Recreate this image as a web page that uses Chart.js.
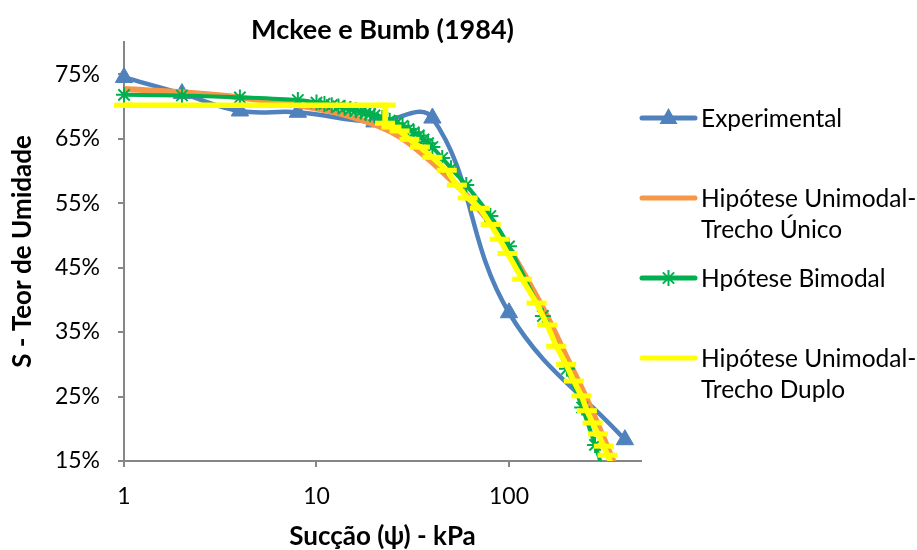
<!DOCTYPE html>
<html>
<head>
<meta charset="utf-8">
<script src="https://cdn.jsdelivr.net/npm/chart.js@4.4.1/dist/chart.umd.min.js"></script>
<style>
  html, body { margin: 0; padding: 0; background: #ffffff; }
  #wrap { width: 917px; height: 550px; }
</style>
</head>
<body>
<div id="wrap"><canvas id="c" width="917" height="550"></canvas></div>
<script>
// ---------- data ----------
const chartTitle = 'Mckee e Bumb (1984)';
const xAxisTitle = 'Sucção (ψ) - kPa';
const yAxisTitle = 'S - Teor de Umidade';
const xTickValues = [1, 10, 100];
const yTickValues = [15, 25, 35, 45, 55, 65, 75];

const seriesNames = ['Experimental', 'Hipótese Unimodal-Trecho Único', 'Hpótese Bimodal', 'Hipótese Unimodal-Trecho Duplo'];
const legendLines = [['Experimental'], ['Hipótese Unimodal-', 'Trecho Único'], ['Hpótese Bimodal'], ['Hipótese Unimodal-', 'Trecho Duplo']];

// Experimental
const expSuction = [1, 2, 4, 8, 20, 40, 100, 400];
const expMoisture = [74.5, 72.0, 69.3, 69.1, 67.6, 68.2, 38.0, 18.3];

// Hipótese Unimodal - Trecho Único
const uniSuction = [1, 2, 4, 8, 12, 16, 20, 25, 30, 40, 50, 60, 80, 100, 150, 200, 250, 300, 350, 400];
const uniMoisture = [72.7, 72.2, 71.4, 70.2, 69.2, 68.2, 67.2, 65.9, 64.4, 61.3, 58.6, 56.3, 51.9, 48.0, 38.7, 31.0, 25.0, 19.6, 14.8, 10.5];

// Hpótese Bimodal
const biSuction = [1, 2, 4, 8, 10, 11, 12, 13, 14, 15, 16, 17, 18, 19, 20, 22, 24, 26, 28, 30, 32, 34, 36, 38, 40, 45, 50, 60, 80, 100, 150, 200, 240, 280, 320];
const biMoisture = [71.8, 71.7, 71.4, 71.0, 70.6, 70.4, 70.2, 70.0, 69.8, 69.6, 69.4, 69.2, 69.0, 68.8, 68.6, 68.2, 67.8, 67.4, 67.0, 66.5, 66.0, 65.5, 64.9, 64.3, 63.7, 62.0, 60.4, 57.8, 53.0, 48.3, 37.5, 29.3, 23.3, 17.5, 12.0];

// Hipótese Unimodal - Trecho Duplo
const duoSuction = [1, 22.9, 22.7, 24.5, 27, 30.4, 34.5, 40, 47.5, 53.6, 61, 70.7, 80.3, 89.5, 98.3, 117, 139, 158, 176, 198, 217, 238, 254, 272, 290, 311, 325, 345];
const duoMoisture = [70.2, 70.2, 67.4, 66.8, 66.2, 64.9, 63.7, 62.1, 60.1, 57.8, 55.8, 54.2, 51.7, 49.4, 47.2, 43.2, 39.5, 36.1, 32.8, 30.0, 27.4, 25.1, 22.8, 20.9, 19.2, 17.3, 15.9, 14.0];

// ---------- styling ----------
const FONT = 'Lato, "DejaVu Sans", sans-serif';
const COLORS = ['#4F81BD', '#F79646', '#00B050', '#FFFF00'];
const AXIS = '#868686';
const pts = (xs, ys) => xs.map((x, i) => ({ x: x, y: ys[i] }));
const CLIP = { left: 20, top: 20, right: 10, bottom: 0 };

const legendPlugin = {
  id: 'customLegend',
  afterDraw(chart) {
    const ctx = chart.ctx;
    const entryY = [118, 198, 278, 358];
    const x0 = 642, x1 = 695, tx = 701, lineGap = 31;
    ctx.save();
    ctx.font = '24.5px ' + FONT;
    ctx.textBaseline = 'middle';
    ctx.textAlign = 'left';
    legendLines.forEach((lines, i) => {
      const y = entryY[i];
      ctx.strokeStyle = COLORS[i];
      ctx.lineWidth = 5;
      ctx.lineCap = 'round';
      ctx.beginPath(); ctx.moveTo(x0, y); ctx.lineTo(x1, y); ctx.stroke();
      const mx = (x0 + x1) / 2;
      if (i === 0) {
        ctx.fillStyle = COLORS[0];
        ctx.beginPath();
        ctx.moveTo(mx, y - 10); ctx.lineTo(mx + 9, y + 6); ctx.lineTo(mx - 9, y + 6);
        ctx.closePath(); ctx.fill();
      } else if (i === 2) {
        ctx.lineWidth = 2; ctx.lineCap = 'butt';
        for (let k = 0; k < 4; k++) {
          const a = k * Math.PI / 4;
          ctx.beginPath();
          ctx.moveTo(mx - 8 * Math.cos(a), y - 8 * Math.sin(a));
          ctx.lineTo(mx + 8 * Math.cos(a), y + 8 * Math.sin(a));
          ctx.stroke();
        }
      }
      ctx.fillStyle = '#000';
      lines.forEach((t, j) => ctx.fillText(t, tx, y + j * lineGap + 1));
    });
    ctx.restore();
  }
};

new Chart(document.getElementById('c'), {
  type: 'line',
  data: {
    datasets: [
      {
        label: seriesNames[0], data: pts(expSuction, expMoisture), order: 4,
        borderColor: COLORS[0], backgroundColor: COLORS[0], borderWidth: 4.5, tension: 0.4,
        pointStyle: 'triangle', pointRadius: 10, pointBorderWidth: 1, clip: CLIP
      },
      {
        label: seriesNames[1], data: pts(uniSuction, uniMoisture), order: 3,
        borderColor: COLORS[1], backgroundColor: COLORS[1], borderWidth: 6, tension: 0.4,
        pointRadius: 0, clip: CLIP
      },
      {
        label: seriesNames[2], data: pts(biSuction, biMoisture), order: 2,
        borderColor: COLORS[2], backgroundColor: COLORS[2], borderWidth: 4, tension: 0.3,
        pointStyle: 'star', pointRadius: 8, pointBorderWidth: 2, clip: CLIP
      },
      {
        label: seriesNames[3], data: pts(duoSuction, duoMoisture), order: 1,
        borderColor: COLORS[3], backgroundColor: COLORS[3], borderWidth: 5.5, tension: 0,
        pointStyle: 'line', pointRadius: 10, pointBorderWidth: 5, clip: CLIP
      }
    ]
  },
  options: {
    responsive: false,
    animation: false,
    events: [],
    layout: { padding: { left: 0, right: 276, top: 0, bottom: 0 } },
    plugins: {
      legend: { display: false },
      tooltip: { enabled: false },
      title: {
        display: true, text: chartTitle, fullSize: false, color: '#000',
        font: { family: FONT, size: 27, weight: 'bold', lineHeight: 1 },
        padding: { top: 17, bottom: -2 }
      }
    },
    scales: {
      x: {
        type: 'logarithmic', min: 1, max: 485,
        afterBuildTicks: s => { s.ticks = xTickValues.map(v => ({ value: v })); },
        afterFit: s => { s.height = 89; },
        ticks: {
          callback: v => String(v), color: '#000', autoSkip: false, maxRotation: 0,
          font: { family: FONT, size: 23 }, padding: 16
        },
        grid: { drawOnChartArea: false, drawTicks: true, tickLength: 6, color: AXIS, lineWidth: 2 },
        border: { display: true, color: AXIS, width: 2 },
        title: {
          display: true, text: xAxisTitle, color: '#000',
          font: { family: FONT, size: 26, weight: 'bold', lineHeight: 1 },
          padding: { top: 0, bottom: 0 }
        }
      },
      y: {
        type: 'linear', min: 15, max: 80,
        afterBuildTicks: s => { s.ticks = yTickValues.map(v => ({ value: v })); },
        afterFit: s => { s.width = 124; },
        ticks: {
          callback: v => v + '%', color: '#000', autoSkip: false,
          font: { family: FONT, size: 23 }, padding: 18
        },
        grid: { drawOnChartArea: false, drawTicks: true, tickLength: 6, color: AXIS, lineWidth: 2 },
        border: { display: true, color: AXIS, width: 2 },
        title: {
          display: true, text: yAxisTitle, color: '#000',
          font: { family: FONT, size: 26, weight: 'bold', lineHeight: 1 },
          padding: { top: 10, bottom: 0 }
        }
      }
    }
  },
  plugins: [legendPlugin]
});
</script>
</body>
</html>
